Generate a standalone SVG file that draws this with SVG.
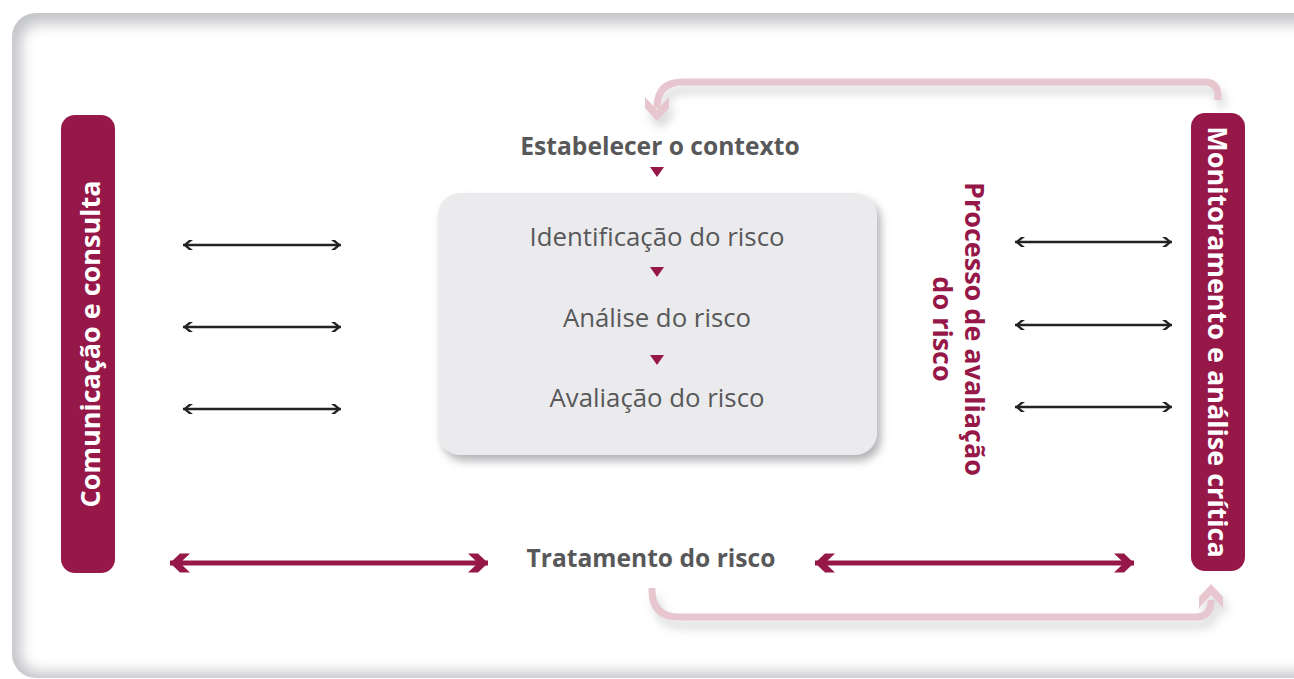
<svg xmlns="http://www.w3.org/2000/svg" width="1294" height="679" viewBox="0 0 1294 679">
<defs>
<style>
.bar{fill:#961848}
.bartxt{font-family:"Open Sans","Noto Sans",sans-serif;font-weight:700;font-size:27px;fill:#ffffff;text-anchor:middle;dominant-baseline:central}
.lbl{font-family:"Open Sans","Noto Sans",sans-serif;font-size:25.8px;fill:#58585a;text-anchor:middle}
.bold{font-weight:700;font-size:24.6px}
.tri{fill:#961848}
.blk{stroke:#222;stroke-width:2.5;fill:none;marker-start:url(#chevK);marker-end:url(#chevK)}
.mar{stroke:#961848;stroke-width:5;fill:none;marker-start:url(#chevM);marker-end:url(#chevM)}
.pink{stroke:#e8c6cf;stroke-width:7;fill:none}
</style>
<marker id="chevK" markerUnits="userSpaceOnUse" viewBox="-11 -6 12 12" refX="0" refY="0" markerWidth="12" markerHeight="12" orient="auto-start-reverse">
<path d="M0,0 L-6,-5 L-10,-5 L-5,-1.3 L-5,1.3 L-10,5 L-6,5 Z" fill="#222"/>
</marker>
<marker id="chevM" markerUnits="userSpaceOnUse" viewBox="-21 -11 22 22" refX="0" refY="0" markerWidth="22" markerHeight="22" orient="auto-start-reverse">
<path d="M0,0 L-10,-9.5 L-20,-9.5 L-12.6,-2.5 L-12.6,2.5 L-20,9.5 L-10,9.5 Z" fill="#961848"/>
</marker>
<filter id="soft" x="-5%" y="-5%" width="110%" height="110%">
<feGaussianBlur stdDeviation="7"/>
</filter>
<filter id="boxsh" x="-10%" y="-10%" width="125%" height="125%">
<feGaussianBlur in="SourceAlpha" stdDeviation="4"/>
<feOffset dx="4" dy="6" result="b"/>
<feFlood flood-color="#8a8c90" flood-opacity="0.65"/>
<feComposite in2="b" operator="in"/>
<feMerge><feMergeNode/><feMergeNode in="SourceGraphic"/></feMerge>
</filter>
<filter id="pinksh" x="-10%" y="-50%" width="120%" height="200%">
<feGaussianBlur in="SourceAlpha" stdDeviation="5"/>
<feOffset dx="4" dy="8" result="b"/>
<feFlood flood-color="#9a9ca0" flood-opacity="0.4"/>
<feComposite in2="b" operator="in"/>
<feMerge><feMergeNode/><feMergeNode in="SourceGraphic"/></feMerge>
</filter>
</defs>

<g id="frame">
<rect x="12" y="13" width="1320" height="665" rx="24" fill="#c4c5c9"/>
<rect x="21" y="24" width="1305" height="648" rx="18" fill="#ffffff" filter="url(#soft)"/>
</g>

<g id="connectors">
<line class="blk" x1="183" y1="245" x2="341" y2="245"/>
<line class="blk" x1="183" y1="327" x2="341" y2="327"/>
<line class="blk" x1="183" y1="409" x2="341" y2="409"/>
<line class="blk" x1="1015" y1="242" x2="1172" y2="242"/>
<line class="blk" x1="1015" y1="325" x2="1172" y2="325"/>
<line class="blk" x1="1015" y1="407" x2="1172" y2="407"/>
<line class="mar" x1="170" y1="563" x2="488" y2="563"/>
<line class="mar" x1="815" y1="563" x2="1134" y2="563"/>
<g filter="url(#pinksh)">
<path class="pink" d="M1218,100 L1218,96 Q1218,82 1204,82 L683,82 Q657,82 657,108"/>
<path d="M657,121 L645,108 L645,97 L657,110 L669,97 L669,108 Z" fill="#e8c6cf"/>
<path class="pink" d="M652,588 L652,590 Q652,617 679,617 L1196,617 Q1211,617 1211,600"/>
<path d="M1211,584 L1199,597 L1199,608 L1211,595 L1223,608 L1223,597 Z" fill="#e8c6cf"/>
</g>
</g>

<g id="comunicacao">
<rect class="bar" x="61" y="115" width="54" height="458" rx="14"/>
<text class="bartxt" transform="translate(89,344) rotate(-90)">Comunicação e consulta</text>
</g>

<g id="monitoramento">
<rect class="bar" x="1191" y="113" width="54" height="458" rx="14"/>
<text class="bartxt" transform="translate(1218,342) rotate(90)">Monitoramento e análise crítica</text>
</g>

<g id="contexto">
<text class="lbl bold" x="660" y="155">Estabelecer o contexto</text>
<path class="tri" d="M650,167 L664,167 L657,177 Z"/>
</g>

<g id="processo">
<rect x="438" y="193" width="439" height="262" rx="22" fill="#ebebed" filter="url(#boxsh)"/>
<text class="lbl" x="657" y="246">Identificação do risco</text>
<path class="tri" d="M650,267 L664,267 L657,277 Z"/>
<text class="lbl" x="657" y="327">Análise do risco</text>
<path class="tri" d="M650,355 L664,355 L657,365 Z"/>
<text class="lbl" x="657" y="407">Avaliação do risco</text>
</g>

<g id="processo-label">
<text font-family="'Open Sans','Noto Sans',sans-serif" font-weight="700" font-size="27" fill="#961848" text-anchor="middle" transform="translate(954,329) rotate(90)"><tspan x="0" y="-11">Processo de avaliação</tspan><tspan x="0" y="21">do risco</tspan></text>
</g>

<g id="tratamento">
<text class="lbl bold" x="651" y="567">Tratamento do risco</text>
</g>
</svg>
